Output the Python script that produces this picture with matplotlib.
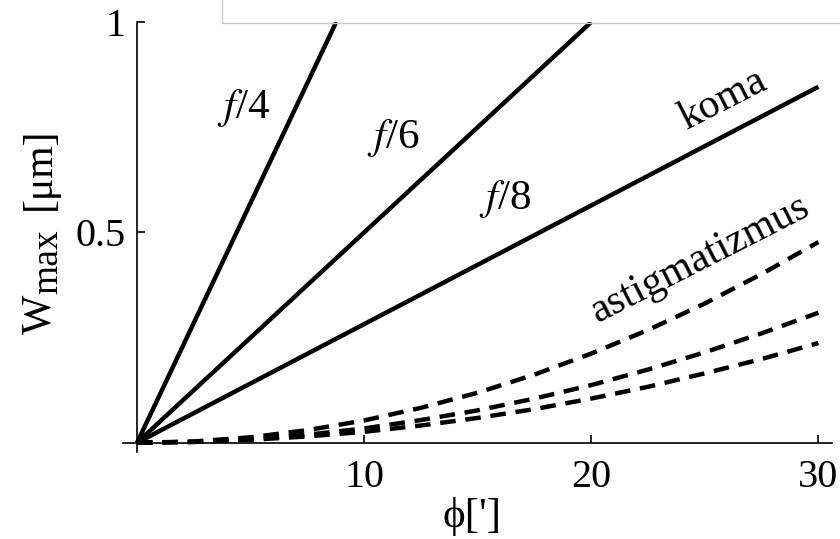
import matplotlib.pyplot as plt
from matplotlib.lines import Line2D

plt.rcParams['font.family'] = ['Liberation Serif', 'DejaVu Serif']
plt.rcParams['mathtext.fontset'] = 'stix'

# coma (solid): straight lines, two points each
coma_x = [[0, 8.77], [0, 20.0], [0, 30]]
coma_y = [[0, 1.0], [0, 1.0], [0, 0.846]]
coma_labels = ['$f$/4', '$f$/6', '$f$/8']
coma_label_pos = [(4.7, 0.795), (11.3, 0.725), (16.2, 0.58)]

# astigmatism (dashed)
astig_x = [0, 2.5, 5, 7.5, 10, 12.5, 15, 17.5, 20, 22.5, 25, 27.5, 30]
astig_f4 = [0, 0.003, 0.013, 0.030, 0.053, 0.083, 0.119, 0.162, 0.212, 0.268, 0.331, 0.401, 0.477]
astig_f6 = [0, 0.002, 0.009, 0.019, 0.034, 0.054, 0.077, 0.105, 0.137, 0.174, 0.215, 0.260, 0.309]
astig_f8 = [0, 0.002, 0.007, 0.015, 0.026, 0.041, 0.059, 0.080, 0.105, 0.133, 0.165, 0.199, 0.237]

W, H = 840, 539
fig = plt.figure(figsize=(8.4, 5.39), dpi=100)
ax = fig.add_axes([0.1464, 0.1614, 0.8441, 0.7978])

for xs, ys in zip(coma_x, coma_y):
    ax.plot(xs, ys, color='black', lw=3.2, solid_capstyle='butt')
for ys in (astig_f4, astig_f6, astig_f8):
    ax.plot(astig_x, ys, color='black', lw=3.2, linestyle=(0, (3.5, 2.2)))

for lab, (tx, ty) in zip(coma_labels, coma_label_pos):
    ax.text(tx, ty, lab, fontsize=31, ha='center', va='center')
ax.text(25.8, 0.815, 'koma', fontsize=30, rotation=27, ha='center', va='center')
ax.text(24.8, 0.435, 'astigmatizmus', fontsize=30, rotation=27, ha='center', va='center')

ax.set_xlim(-0.62, 30.6)
ax.set_ylim(-0.022, 1.0)
ax.spines['left'].set_position(('data', 0))
ax.spines['bottom'].set_position(('data', 0))
ax.spines['top'].set_visible(False)
ax.spines['right'].set_visible(False)
for s in ('left', 'bottom'):
    ax.spines[s].set_linewidth(1.2)

ax.set_xticks([10, 20, 30])
ax.set_yticks([0.5, 1])
ax.set_yticklabels(['0.5', '1'])
ax.tick_params(direction='in', length=6, width=1.2, labelsize=29)
ax.tick_params(axis='x', pad=12)
ax.tick_params(axis='y', pad=8)

# y label built from pieces: W, lowered "max", [μm]
ylab = dict(rotation=90, rotation_mode='anchor', ha='left', va='baseline')
fig.text(50 / W, 1 - 334 / H, 'W', fontsize=30, **ylab)
fig.text(57 / W, 1 - 294 / H, 'max', fontsize=27, **ylab)
fig.text(50 / W, 1 - 210 / H, '[μm]', fontsize=30, **ylab)

fig.text(472 / W, 1 - 516 / H, "ϕ[']", fontsize=31, ha='center', va='center')

# partially visible frame at the top
fig.add_artist(Line2D([0.264, 0.264, 1.0], [1.0, 0.957, 0.957],
                      color='#c8c8c8', lw=1))

fig.savefig('out.png', dpi=100)
